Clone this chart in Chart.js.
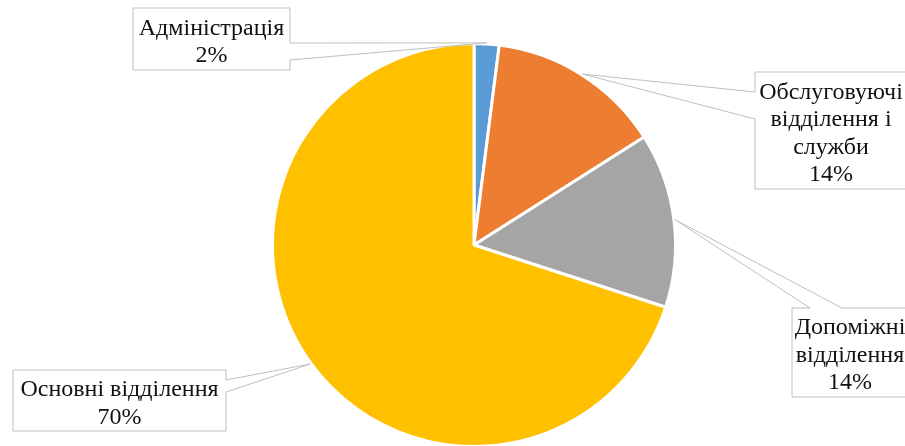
<!DOCTYPE html>
<html lang="uk">
<head>
<meta charset="utf-8">
<title>Структура персоналу</title>
<script src="https://cdn.jsdelivr.net/npm/chart.js@4.4.1/dist/chart.umd.min.js"></script>
<style>
  html, body { margin: 0; padding: 0; background: #fff; overflow: hidden; }
  #wrap { position: relative; width: 905px; height: 460px; }
</style>
</head>
<body>
<div id="wrap"><canvas id="pie"></canvas></div>
<script>
// Частки підрозділів, %
const categories = ['Адміністрація', 'Обслуговуючі відділення і служби', 'Допоміжні відділення', 'Основні відділення'];
const shares = [2, 14, 14, 70];
const sliceColors = ['#5B9BD5', '#ED7D31', '#A5A5A5', '#FFC000'];
// підписи, розбиті на рядки
const labelLines = [
    ['Адміністрація'],
    ['Обслуговуючі', 'відділення і', 'служби'],
    ['Допоміжні', 'відділення'],
    ['Основні відділення']
];

// виноски: рамка [x, y, w, h], сторона з «хвостиком» і точки його основи на цій стороні
const callouts = [
    { box: [133, 8, 157, 62], side: 'right', base: [35, 52] },
    { box: [755, 72, 152, 117], side: 'left', base: [20, 47] },
    { box: [792, 308, 116, 89], side: 'top', base: [18, 50] },
    { box: [13, 370, 213, 61], side: 'right', base: [10, 22] }
];

const total = shares.reduce((a, b) => a + b, 0);

const calloutPlugin = {
    id: 'callouts',
    afterDatasetsDraw(chart) {
        const ctx = chart.ctx;
        const meta = chart.getDatasetMeta(0);
        ctx.save();
        meta.data.forEach((arc, i) => {
            const p = arc.getProps(['x', 'y', 'startAngle', 'endAngle', 'outerRadius'], true);
            const mid = (p.startAngle + p.endAngle) / 2;
            const tx = p.x + Math.cos(mid) * (p.outerRadius + 1);
            const ty = p.y + Math.sin(mid) * (p.outerRadius + 1);
            const c = callouts[i];
            const [bx, by, bw, bh] = c.box;
            const [b0, b1] = c.base;

            ctx.fillStyle = '#ffffff';
            ctx.fillRect(bx, by, bw, bh);

            ctx.beginPath();
            if (c.side === 'right') {
                ctx.moveTo(bx, by);
                ctx.lineTo(bx + bw, by);
                ctx.lineTo(bx + bw, by + b0);
                ctx.lineTo(tx, ty);
                ctx.lineTo(bx + bw, by + b1);
                ctx.lineTo(bx + bw, by + bh);
                ctx.lineTo(bx, by + bh);
            } else if (c.side === 'left') {
                ctx.moveTo(bx, by);
                ctx.lineTo(bx + bw, by);
                ctx.lineTo(bx + bw, by + bh);
                ctx.lineTo(bx, by + bh);
                ctx.lineTo(bx, by + b1);
                ctx.lineTo(tx, ty);
                ctx.lineTo(bx, by + b0);
            } else {
                ctx.moveTo(bx, by);
                ctx.lineTo(bx + b0, by);
                ctx.lineTo(tx, ty);
                ctx.lineTo(bx + b1, by);
                ctx.lineTo(bx + bw, by);
                ctx.lineTo(bx + bw, by + bh);
                ctx.lineTo(bx, by + bh);
            }
            ctx.closePath();
            ctx.strokeStyle = '#bfbfbf';
            ctx.lineWidth = 1;
            ctx.stroke();

            // текст: назва + відсоток
            const lines = labelLines[i].concat([Math.round(shares[i] / total * 100) + '%']);
            const lh = 27.5;
            ctx.fillStyle = '#111111';
            ctx.font = '24px "Liberation Serif", "DejaVu Serif", serif';
            ctx.textAlign = 'center';
            ctx.textBaseline = 'middle';
            const cy = by + bh / 2 + 3 - (lines.length - 1) * lh / 2;
            lines.forEach((t, k) => ctx.fillText(t, bx + bw / 2, cy + k * lh));
        });
        ctx.restore();
    }
};

new Chart(document.getElementById('pie'), {
    type: 'pie',
    data: {
        labels: categories,
        datasets: [{
            data: shares,
            backgroundColor: sliceColors,
            borderColor: '#ffffff',
            borderWidth: 3,
            hoverOffset: 0
        }]
    },
    options: {
        responsive: true,
        maintainAspectRatio: false,
        animation: false,
        layout: { padding: { left: 270, right: 227, top: 42, bottom: 12 } },
        plugins: {
            legend: { display: false },
            tooltip: { enabled: false }
        }
    },
    plugins: [calloutPlugin]
});
</script>
</body>
</html>
